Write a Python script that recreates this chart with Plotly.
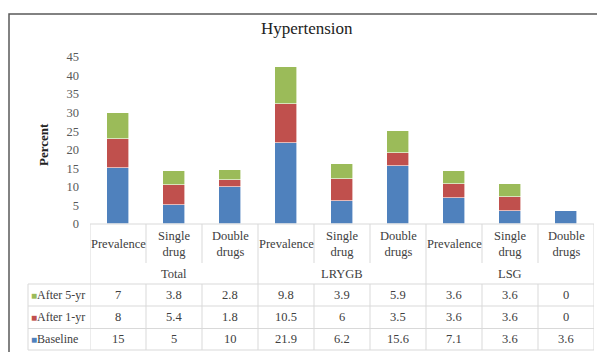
import plotly.graph_objects as go

categories = ["Prevalence", "Single<br>drug", "Double<br>drugs",
              "Prevalence", "Single<br>drug", "Double<br>drugs",
              "Prevalence", "Single<br>drug", "Double<br>drugs"]
groups = ["Total", "LRYGB", "LSG"]
baseline = [15, 5, 10, 21.9, 6.2, 15.6, 7.1, 3.6, 3.6]
after_1yr = [8, 5.4, 1.8, 10.5, 6, 3.5, 3.6, 3.6, 0]
after_5yr = [7, 3.8, 2.8, 9.8, 3.9, 5.9, 3.6, 3.6, 0]
series_names = ["After 5-yr", "After 1-yr", "Baseline"]
colors = {"Baseline": "#4F81BD", "After 1-yr": "#C0504D", "After 5-yr": "#9BBB59"}
y_ticks = [0, 5, 10, 15, 20, 25, 30, 35, 40, 45]

W, H = 597, 352
ML, MR, MT, MB = 90, 3, 57, 128
PH = H - MT - MB
PW = W - ML - MR
FONT = "Liberation Serif"
TXT = "#404040"
GRID = "#D9D9D9"

def py(p):
    return (H - MB - p) / PH

def px(p):
    return (p - ML) / PW

xs = list(range(len(categories)))
fig = go.Figure()
for name, vals in [("Baseline", baseline), ("After 1-yr", after_1yr), ("After 5-yr", after_5yr)]:
    fig.add_trace(go.Bar(x=xs, y=vals, name=name, width=0.39,
                         marker=dict(color=colors[name], line=dict(color="white", width=0.6)),
                         showlegend=False, hoverinfo="skip"))

shapes = []
annotations = []

def ann(**kw):
    kw.setdefault("showarrow", False)
    kw.setdefault("xanchor", "center")
    kw.setdefault("yanchor", "middle")
    annotations.append(kw)

ann(text="Hypertension", xref="paper", yref="paper", x=px(307), y=py(28),
    font=dict(family=FONT, size=17, color="#222"))
shapes.append(dict(type="rect", xref="paper", yref="paper", x0=px(9), x1=px(602), y0=py(360), y1=py(14),
                   line=dict(color="#595959", width=1.5)))

row_tops = [284, 306, 328.5, 350]
for yy in row_tops:
    shapes.append(dict(type="line", xref="paper", yref="paper", x0=px(28), x1=1, y0=py(yy), y1=py(yy),
                       line=dict(color=GRID, width=1)))
shapes.append(dict(type="line", xref="paper", yref="paper", x0=0, x1=1, y0=0, y1=0,
                   line=dict(color=GRID, width=1.2)))
for b in [i - 0.5 for i in range(len(categories) + 1)]:
    if b in (-0.5, 2.5, 5.5, 8.5):
        shapes.append(dict(type="line", xref="x", yref="paper", x0=b, x1=b, y0=py(350), y1=0,
                           line=dict(color=GRID, width=1)))
    else:
        shapes.append(dict(type="line", xref="x", yref="paper", x0=b, x1=b, y0=py(263), y1=0,
                           line=dict(color=GRID, width=1)))
        shapes.append(dict(type="line", xref="x", yref="paper", x0=b, x1=b, y0=py(350), y1=py(284),
                           line=dict(color=GRID, width=1)))
shapes.append(dict(type="line", xref="paper", yref="paper", x0=px(28), x1=px(28), y0=py(350), y1=py(284),
                   line=dict(color=GRID, width=1)))

for i, c in enumerate(categories):
    ann(text=c, x=i, xref="x", y=py(244), yref="paper", font=dict(family=FONT, size=12.5, color=TXT))
for g, gi in enumerate(groups):
    ann(text=gi, x=g * 3 + 1, xref="x", y=py(274), yref="paper", font=dict(family=FONT, size=12.5, color=TXT))

data_rows = {"After 5-yr": after_5yr, "After 1-yr": after_1yr, "Baseline": baseline}
for r, name in enumerate(series_names):
    yc = (row_tops[r] + row_tops[r + 1]) / 2
    ann(text=f'<span style="color:{colors[name]};font-size:10px">■</span>{name}', x=px(29), y=py(yc),
        xref="paper", yref="paper", xanchor="left", font=dict(family=FONT, size=12, color=TXT))
    for i, v in enumerate(data_rows[name]):
        ann(text=f"{v:g}", x=i, xref="x", y=py(yc), yref="paper", font=dict(family=FONT, size=12.5, color=TXT))

ann(text="<b>Percent</b>", x=px(43), y=py(145), xref="paper", yref="paper",
    textangle=-90, font=dict(family=FONT, size=13, color="#222"))

fig.update_layout(
    width=W, height=H, margin=dict(l=ML, r=MR, t=MT, b=MB),
    barmode="stack", paper_bgcolor="white", plot_bgcolor="white",
    xaxis=dict(range=[-0.5, 8.5], showticklabels=False, showgrid=False, zeroline=False, showline=False,
               fixedrange=True),
    yaxis=dict(range=[0, 45], tickvals=y_ticks, showgrid=False, zeroline=False, showline=False,
               ticks="", ticklabelstandoff=10, automargin=False, fixedrange=True,
               tickfont=dict(family=FONT, size=12.5, color="#595959")),
    shapes=shapes, annotations=annotations, bargap=0,
)
fig.write_html("out.html", config={"displayModeBar": False},
               post_script="document.body.style.margin='0';")
